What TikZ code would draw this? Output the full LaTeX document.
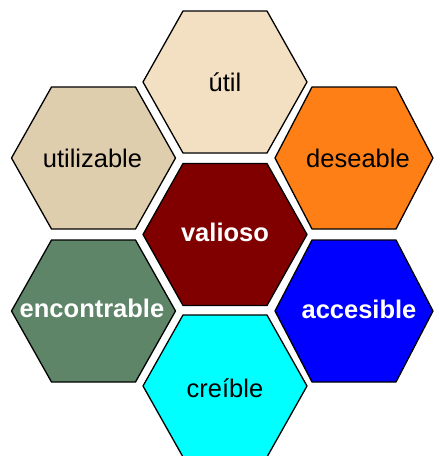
\documentclass[tikz,border=0pt]{standalone}
\usepackage{fontspec}
\setmainfont{Liberation Sans}
\definecolor{cutil}{HTML}{F3E0C3}
\definecolor{cutiliz}{HTML}{DFCEAD}
\definecolor{cdese}{HTML}{FF7F17}
\definecolor{cvalio}{HTML}{800000}
\definecolor{cencon}{HTML}{5E8568}
\definecolor{cacces}{HTML}{0000FF}
\definecolor{ccreib}{HTML}{00FFFF}
\newcommand\hexa[5]{%
  \filldraw[hexstyle, fill=#5] (#1-#3,#2) -- (#1-#4,#2-71) -- (#1+#4,#2-71) -- (#1+#3,#2) -- (#1+#4,#2+71) -- (#1-#4,#2+71) -- cycle;}
\begin{document}
\begin{tikzpicture}[x=1pt,y=-1pt,
  hexstyle/.style={draw=black, line width=1.3pt, line join=miter},
  darklbl/.style={font=\fontsize{25.5}{30}\selectfont, text=black, anchor=base, inner sep=0pt},
  lightlbl/.style={font=\fontsize{25.5}{30}\selectfont\bfseries, text=white, anchor=base, inner sep=0pt}]
\useasboundingbox (0,0) rectangle (434,456);
\hexa{225}{82}{82}{42}{cutil}
\hexa{93.5}{158}{82}{42}{cutiliz}
\hexa{354}{158}{79}{42}{cdese}
\hexa{225}{234.5}{82}{42}{cvalio}
\hexa{93.5}{311}{82}{42}{cencon}
\hexa{354}{311}{79}{42}{cacces}
\hexa{225}{386}{82}{42}{ccreib}
\node[darklbl] (util) at (225,91) {útil};
\node[darklbl] (utilizable) at (92.5,167.5) {utilizable};
\node[darklbl] (deseable) at (358,167.5) {deseable};
\node[lightlbl] (valioso) at (225,241.5) {valioso};
\node[lightlbl] (encontrable) at (92,317.5) {encontrable};
\node[lightlbl] (accesible) at (359,318) {accesible};
\node[darklbl] (creible) at (225,397.5) {creíble};
\end{tikzpicture}
\end{document}
